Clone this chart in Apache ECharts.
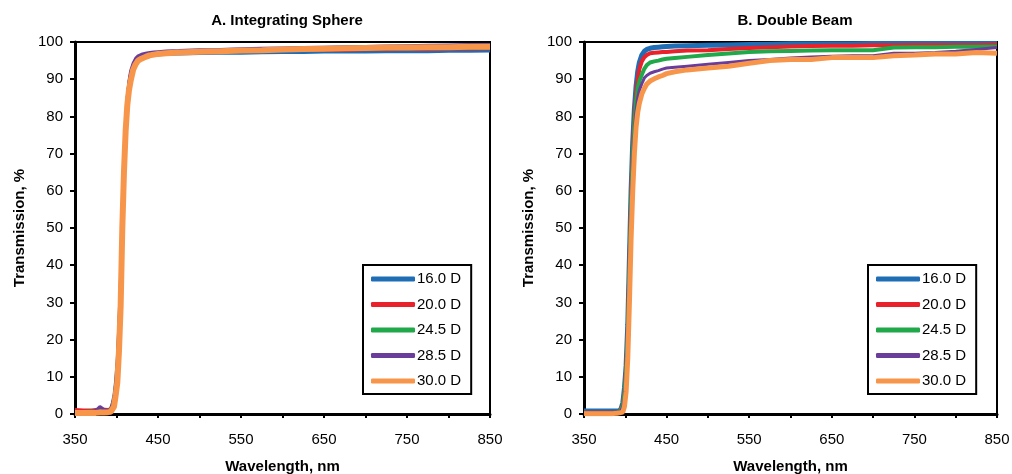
<!DOCTYPE html>
<html>
<head>
<meta charset="utf-8">
<script src="https://cdn.jsdelivr.net/npm/echarts@6/dist/echarts.min.js"></script>
<style>
html,body{margin:0;padding:0;background:#fff;}
#chart{width:1012px;height:474px;}
</style>
</head>
<body>
<div id="chart"></div>
<script>
// ---- Data ----
const wavelengths = [350, 360, 370, 375, 380, 385, 390, 393, 395, 397, 399, 401, 403, 405, 407, 409, 411, 413, 415, 417, 420, 423, 426, 430, 435, 440, 445, 450, 460, 475, 500, 525, 550, 575, 600, 625, 650, 675, 700, 725, 750, 775, 800, 825, 850];
const seriesNames = ['16.0 D', '20.0 D', '24.5 D', '28.5 D', '30.0 D'];
const xTickLabels = [350, 450, 550, 650, 750, 850];
const yTickLabels = [0, 10, 20, 30, 40, 50, 60, 70, 80, 90, 100];

// A. Integrating Sphere
const sphere16 = [0.5, 0.5, 0.6, 0.5, 0.6, 0.5, 0.8, 1.5, 3, 5, 9, 15, 25, 38, 55, 69, 79, 85, 89, 91.5, 93.5, 94.8, 95.5, 96, 96.3, 96.5, 96.6, 96.6, 96.7, 96.8, 96.9, 97, 97, 97.1, 97.2, 97.2, 97.3, 97.3, 97.3, 97.4, 97.4, 97.4, 97.5, 97.5, 97.6];
const sphere20 = [1.2, 1.1, 1.1, 1.2, 1.3, 1.3, 1.2, 1.5, 2.5, 4.5, 8, 14, 24, 37, 54, 68, 78.5, 85, 89, 91.5, 93.5, 95, 95.8, 96.3, 96.6, 96.8, 96.9, 97, 97.1, 97.2, 97.3, 97.4, 97.5, 97.6, 97.7, 97.7, 97.8, 97.8, 97.9, 97.9, 98, 98, 98.1, 98.1, 98.2];
const sphere245 = [0.7, 0.7, 0.8, 0.8, 0.9, 0.9, 1.0, 1.3, 2.2, 4, 7.5, 13, 23, 36, 53, 67, 78, 84.5, 88.5, 91.2, 93.3, 94.8, 95.6, 96.2, 96.6, 96.8, 96.9, 97, 97.2, 97.3, 97.5, 97.6, 97.7, 97.8, 97.9, 98, 98, 98.1, 98.1, 98.2, 98.2, 98.3, 98.3, 98.4, 98.4];
const sphere285 = [0.6, 0.6, 0.7, 0.9, 2.0, 1.2, 0.9, 1.2, 2.0, 3.8, 7, 12.5, 22, 35, 52, 67, 78.5, 85.5, 89.5, 92.2, 94.3, 95.6, 96.3, 96.7, 97, 97.2, 97.3, 97.4, 97.6, 97.7, 97.9, 98, 98.2, 98.3, 98.4, 98.5, 98.6, 98.7, 98.8, 98.9, 99, 99.1, 99.2, 99.3, 99.3];
const sphere30 = [0.3, 0.3, 0.3, 0.3, 0.4, 0.4, 0.5, 0.6, 0.9, 2, 5, 8.5, 17, 29, 50, 65, 76, 83, 87, 89.5, 92.5, 94, 95, 95.5, 96, 96.4, 96.6, 96.8, 97, 97.2, 97.4, 97.5, 97.7, 97.8, 98, 98.1, 98.2, 98.3, 98.4, 98.5, 98.5, 98.6, 98.6, 98.7, 98.7];

// B. Double Beam
const beam16 = [0.8, 0.8, 0.8, 0.8, 0.8, 0.8, 0.8, 0.9, 1.5, 3, 7, 13, 24, 42, 60, 73, 82, 88, 92, 94.5, 96.5, 97.5, 98, 98.3, 98.5, 98.6, 98.7, 98.8, 98.9, 99, 99.1, 99.2, 99.3, 99.4, 99.5, 99.5, 99.5, 99.5, 99.6, 99.6, 99.6, 99.6, 99.6, 99.6, 99.6];
const beam20 = [0.4, 0.4, 0.4, 0.4, 0.4, 0.4, 0.5, 0.6, 1.0, 2.5, 6, 12, 22, 40, 58, 71, 80, 86, 90, 92.7, 94.8, 95.9, 96.5, 97, 97.1, 97.2, 97.3, 97.3, 97.5, 97.7, 97.8, 98.1, 98.4, 98.6, 98.8, 98.9, 99, 99, 99.1, 99.1, 99.2, 99.2, 99.2, 99.2, 99.3];
const beam245 = [0.3, 0.3, 0.3, 0.3, 0.3, 0.3, 0.4, 0.5, 0.9, 2.2, 5.5, 11, 21, 38, 56, 69, 78, 84, 87.5, 89.5, 91.2, 92.8, 93.8, 94.5, 94.8, 95, 95.3, 95.5, 95.7, 96, 96.5, 96.9, 97.3, 97.5, 97.6, 97.7, 97.8, 97.8, 97.8, 98.5, 98.6, 98.6, 98.7, 98.7, 98.8];
const beam285 = [0.2, 0.2, 0.2, 0.2, 0.2, 0.2, 0.3, 0.4, 0.7, 1.8, 4.5, 9.5, 19, 36, 54, 67, 75.5, 81.5, 85, 87, 88.8, 90.3, 91, 91.6, 92, 92.3, 92.7, 93, 93.2, 93.5, 94, 94.5, 95, 95.3, 95.7, 96, 96.2, 96.3, 96.3, 97, 97, 97.2, 97.5, 98, 98.5];
const beam30 = [0.1, 0.1, 0.1, 0.1, 0.1, 0.1, 0.2, 0.3, 0.3, 0.5, 2, 6, 15, 30, 47, 60, 70, 77, 81, 83.5, 86, 87.5, 88.7, 89.5, 90.1, 90.6, 91, 91.5, 92, 92.5, 93, 93.5, 94.3, 95, 95.3, 95.3, 95.8, 95.8, 95.8, 96.3, 96.5, 96.8, 96.8, 97.2, 97];

const colors = ['#1f6db5', '#e8212a', '#20a84a', '#6a3d9a', '#f7964a'];
const sphereData = [sphere16, sphere20, sphere245, sphere285, sphere30];
const beamData = [beam16, beam20, beam245, beam285, beam30];
const sphereWidths = [3, 3, 3, 3, 6];
const beamWidths = [5, 4, 4, 3, 5];

const FONT = 'Liberation Sans, Arial, sans-serif';

function pairs(vals) { return wavelengths.map((w, i) => [w, vals[i]]); }

function xAxis(gridIndex) {
  return {
    type: 'value', gridIndex: gridIndex, min: 350, max: 850, interval: 50,
    name: 'Wavelength, nm', nameLocation: 'middle', nameGap: 45,
    nameTextStyle: { fontFamily: FONT, fontWeight: 'bold', fontSize: 15, color: '#000' },
    axisLine: { onZero: false, lineStyle: { color: '#000', width: 3 } },
    axisTick: { show: true, length: 4, lineStyle: { color: '#000', width: 2 } },
    axisLabel: {
      fontFamily: FONT, fontSize: 15, color: '#000', margin: 18,
      formatter: v => xTickLabels.includes(v) ? String(v) : ''
    },
    splitLine: { show: false }
  };
}
function yAxis(gridIndex, gap) {
  return {
    type: 'value', gridIndex: gridIndex, min: 0, max: 100, interval: 10,
    name: 'Transmission, %', nameLocation: 'middle', nameGap: gap,
    nameTextStyle: { fontFamily: FONT, fontWeight: 'bold', fontSize: 15, color: '#000' },
    axisLine: { show: true, lineStyle: { color: '#000', width: 3 } },
    axisTick: { show: true, length: 5, lineStyle: { color: '#000', width: 2 } },
    axisLabel: {
      fontFamily: FONT, fontSize: 15, color: '#000', margin: 12,
      formatter: v => yTickLabels.includes(v) ? String(v) : ''
    },
    splitLine: { show: false }
  };
}
function legend(left) {
  return {
    left: left, top: 265, orient: 'vertical',
    data: seriesNames, selectedMode: false,
    icon: 'roundRect', itemWidth: 44, itemHeight: 5, itemGap: 7.5,
    padding: [5, 10, 4, 8],
    borderColor: '#000', borderWidth: 2,
    textStyle: { fontFamily: FONT, fontSize: 15, color: '#000', lineHeight: 18, padding: [0, 0, 0, -3] }
  };
}

const series = [];
sphereData.forEach((d, i) => series.push({
  name: seriesNames[i], type: 'line', xAxisIndex: 0, yAxisIndex: 0,
  data: pairs(d), showSymbol: false, symbol: 'none', z: 2 + i,
  lineStyle: { color: colors[i], width: sphereWidths[i] }, itemStyle: { color: colors[i] }
}));
beamData.forEach((d, i) => series.push({
  name: seriesNames[i], type: 'line', xAxisIndex: 1, yAxisIndex: 1,
  data: pairs(d), showSymbol: false, symbol: 'none', z: 2 + i,
  lineStyle: { color: colors[i], width: beamWidths[i] }, itemStyle: { color: colors[i] }
}));

const chart = echarts.init(document.getElementById('chart'), null, { renderer: 'canvas' });
chart.setOption({
  animation: false,
  backgroundColor: '#fff',
  title: [
    { text: 'A. Integrating Sphere', left: 282, top: 8, textAlign: 'center',
      textStyle: { fontFamily: FONT, fontWeight: 'bold', fontSize: 15, color: '#000' } },
    { text: 'B. Double Beam', left: 790, top: 8, textAlign: 'center',
      textStyle: { fontFamily: FONT, fontWeight: 'bold', fontSize: 15, color: '#000' } }
  ],
  grid: [
    { left: 75, right: 522, top: 42, bottom: 60, outerBoundsMode: 'none', containLabel: false, show: true, borderColor: '#000', borderWidth: 2, backgroundColor: 'transparent' },
    { left: 584, right: 15, top: 42, bottom: 60, outerBoundsMode: 'none', containLabel: false, show: true, borderColor: '#000', borderWidth: 2, backgroundColor: 'transparent' }
  ],
  xAxis: [xAxis(0), xAxis(1)],
  yAxis: [yAxis(0, 48), yAxis(1, 48)],
  legend: [legend(363), legend(868)],
  series: series
});
</script>
</body>
</html>
